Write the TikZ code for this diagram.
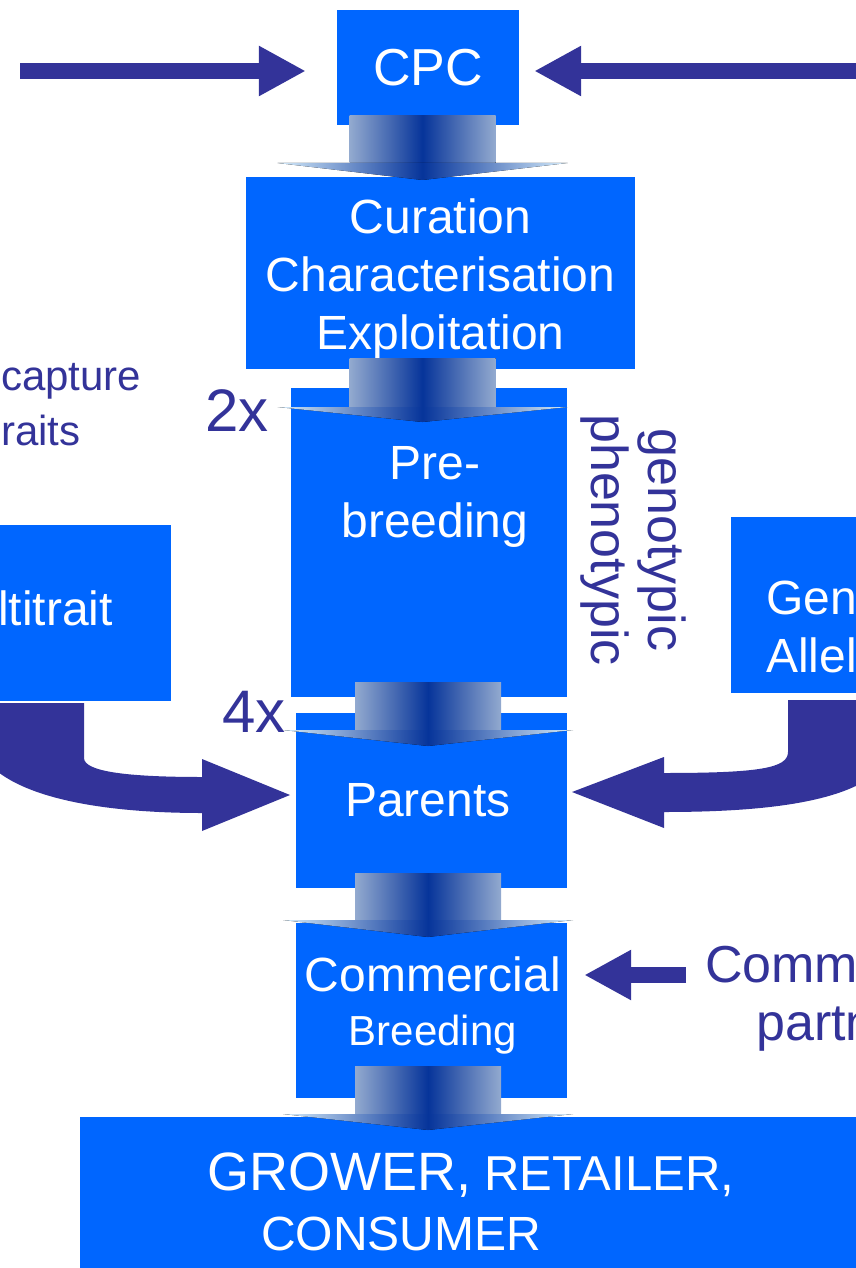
\documentclass[tikz,border=0pt]{standalone}
\usepackage{fontspec}
\setmainfont{Liberation Sans}
\usetikzlibrary{arrows.meta,calc}

\definecolor{boxblue}{HTML}{0066FF}
\definecolor{inkblue}{HTML}{333399}
\definecolor{shaftedge}{HTML}{93AACF}
\definecolor{shaftmid}{HTML}{06349A}
\definecolor{headedge}{HTML}{D6ECFA}

\tikzset{
  box/.style={fill=boxblue,text=white,inner sep=0pt,align=center,font=\fontsize{48}{58}\selectfont},
  boxtxt/.style={text=white,inner sep=0pt,align=center,font=\fontsize{48}{58}\selectfont},
  note/.style={text=inkblue,inner sep=0pt,font=\fontsize{48}{58}\selectfont},
  flowarrow/.style={draw=inkblue,line width=16pt,-{Triangle[length=47pt,width=47pt]}},
}

% shaded down arrow: x, shaft top, head base, tip
\newcommand{\gradarrow}[4]{%
  \fill[left color=shaftedge,right color=shaftedge,middle color=shaftmid] ({#1-73},#2) rectangle ({#1+73},#3);
  \fill[left color=headedge,right color=headedge,middle color=shaftmid] ({#1-145},#3) -- ({#1+145},#3) -- (#1,#4) -- cycle;
}

\begin{document}
\begin{tikzpicture}[x=1pt,y=-1pt]
\useasboundingbox (0,0) rectangle (856,1268);
\clip (0,0) rectangle (856,1268);

% main column
\node[box,minimum width=182,minimum height=115,font=\fontsize{52}{60}\selectfont] (cpc) at (428,67.5) {CPC};
\node[box,minimum width=389,minimum height=192] (cur) at (440.5,273) {};
\node[boxtxt] (curtxt) at (440.5,279) {Curation\\Characterisation\\Exploitation};
\node[box,minimum width=276,minimum height=309] (pre) at (429,542.5) {};
\node[boxtxt] (pretxt) at (435,497) {Pre-\\breeding};
\node[box,minimum width=271,minimum height=175] (par) at (431.5,800.5) {};
\node[boxtxt] (partxt) at (428,800) {Parents};
\node[box,minimum width=271,minimum height=175] (com) at (431.5,1010.5) {};
\node[boxtxt] (comtxt) at (433,1005) {Commercial\\[-4pt]{\fontsize{42}{50}\selectfont Breeding}};
\node[box,minimum width=790,minimum height=163] (grow) at (475,1198.5) {};
\node[boxtxt,anchor=base west] (growA) at (207,1190) {{\fontsize{54}{60}\selectfont GROWER,} {\fontsize{49}{58}\selectfont RETAILER,}};
\node[boxtxt,anchor=base west] (growB) at (261,1250) {CONSUMER};

% side boxes
\node[box,minimum width=191,minimum height=176] (multi) at (75.5,613) {};
\node[boxtxt,anchor=west] (multitxt) at (-2,608) {ltitrait};
\node[box,minimum width=139,minimum height=176] (gen) at (800.5,605) {};
\node[boxtxt,anchor=base west] (gentxt) at (766,614) {Gen};
\node[boxtxt,anchor=base west] (alltxt) at (766,672) {Allel};

% labels
\node[note,anchor=base west,font=\fontsize{42}{55}\selectfont] (cap) at (1,390) {capture};
\node[note,anchor=base west,font=\fontsize{42}{55}\selectfont] (trt) at (1,445) {raits};
\node[note,anchor=base west,font=\fontsize{60}{60}\selectfont] (twox) at (205,431) {2x};
\node[note,anchor=base west,font=\fontsize{60}{60}\selectfont] (fourx) at (222,732) {4x};
\node[note,rotate=-90,align=center,font=\fontsize{52}{57}\selectfont] (geno) at (633,540) {genotypic\\phenotypic};
\node[note,anchor=base west,font=\fontsize{52}{60}\selectfont] (comm) at (705,982) {Comm};
\node[note,anchor=base west,font=\fontsize{52}{60}\selectfont] (partn) at (756,1040) {partn};

% shaded arrows down the column
\gradarrow{422.5}{116}{163}{180}
\gradarrow{422.5}{358}{407}{422}
\gradarrow{428}{682}{730}{746}
\gradarrow{428}{873}{920}{937}
\gradarrow{428}{1066}{1114}{1130}

% straight arrows
\coordinate (leftin) at (20,71);
\coordinate (rightin) at (870,71);
\coordinate (partin) at (686,975);
\draw[flowarrow,shorten >=31pt] (leftin) -- (leftin -| cpc.west);
\draw[flowarrow,shorten >=15pt] (rightin) -- (rightin -| cpc.east);
\draw[flowarrow,shorten >=17pt] (partin) -- (partin -| com.east);

% bent arrows into Parents
\fill[inkblue] (-10,703) -- (84,703) -- (84,758) .. controls (84,772) and (130,777) .. (202,777)
  -- (202,759) -- (290,795) -- (202,831) -- (202,813) .. controls (110,813) and (25,800) .. (-10,765) -- cycle;
\fill[inkblue] (788,700) -- (870,700) -- (870,778) .. controls (830,805) and (750,812) .. (664,812)
  -- (664,828) -- (572,792) -- (664,757) -- (664,773) .. controls (760,773) and (788,768) .. (788,752) -- cycle;
\end{tikzpicture}
\end{document}
